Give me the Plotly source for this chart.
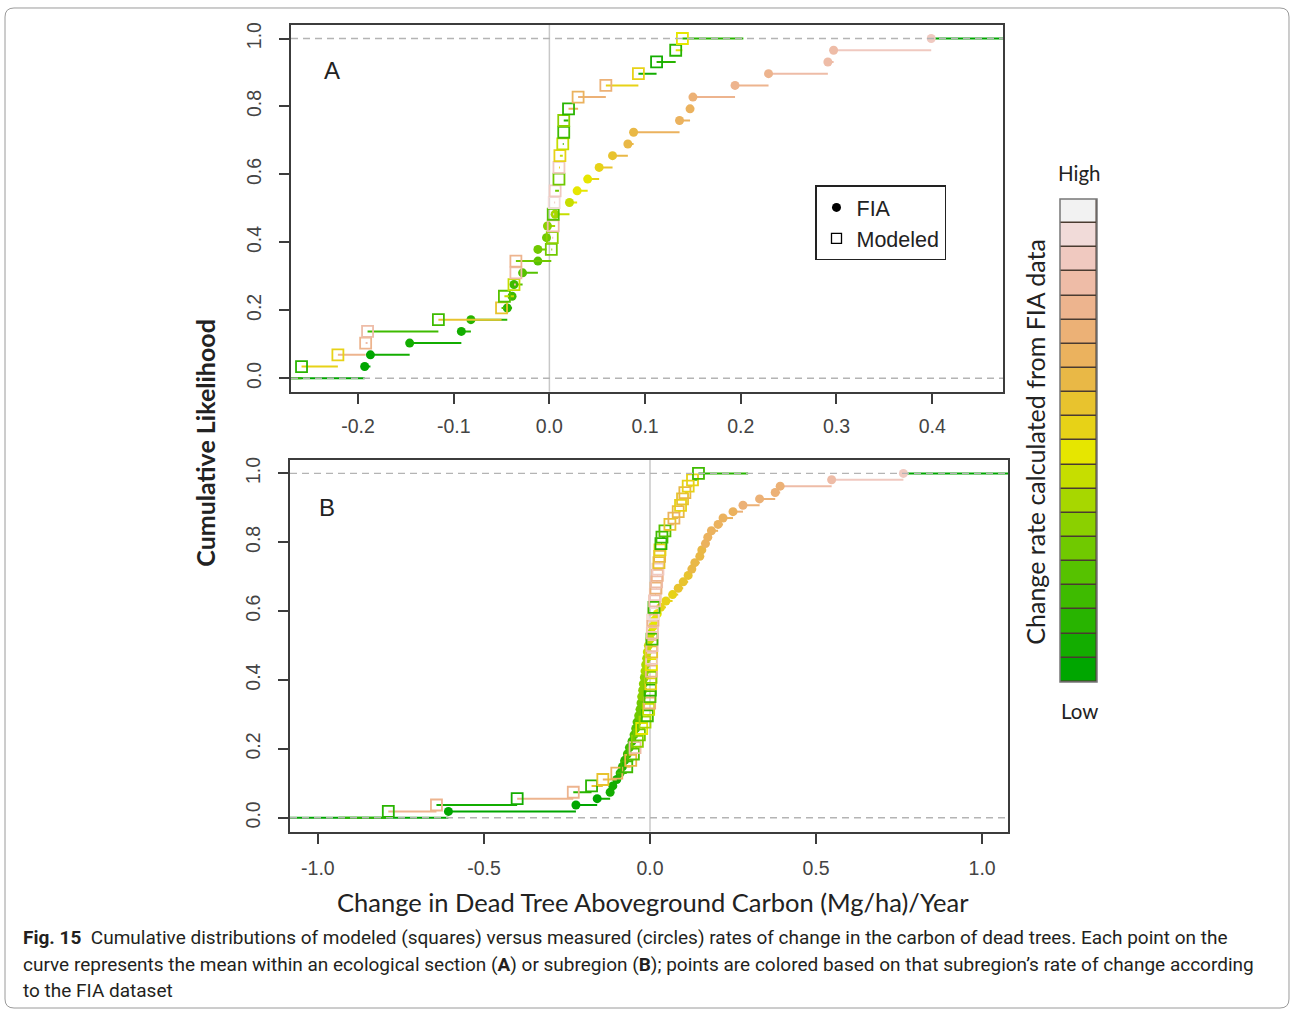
import colorsys
import numpy as np
import plotly.graph_objects as go

W, H = 1290, 1011

# ---------------- DATA ----------------
# Panel A: ecological sections (sorted values of each ECDF)
a_fia_x = [-0.193, -0.187, -0.146, -0.092, -0.082, -0.044, -0.039, -0.037, -0.028, -0.012,
           -0.012, -0.003, -0.002, 0.006, 0.021, 0.029, 0.040, 0.052, 0.066, 0.082,
           0.088, 0.136, 0.147, 0.150, 0.194, 0.229, 0.291, 0.297, 0.399]
a_fia_col = [0, 0, 1, 1, 2, 2, 3, 3, 4, 4, 5, 5, 6, 7, 8, 9, 9, 10, 11, 12,
             12, 13, 13, 14, 15, 15, 16, 16, 17]
a_mod_x = [-0.259, -0.221, -0.192, -0.190, -0.116, -0.050, -0.047, -0.037, -0.035, -0.035,
           0.002, 0.003, 0.004, 0.004, 0.005, 0.006, 0.010, 0.010, 0.011, 0.014,
           0.015, 0.015, 0.020, 0.030, 0.059, 0.093, 0.112, 0.132, 0.139]
a_mod_col = [2, 10, 15, 16, 3, 11, 4, 8, 16, 15, 5, 6, 16, 4, 18, 17, 5, 17, 10, 8,
             3, 6, 2, 13, 14, 10, 1, 2, 9]

# Panel B: subregions
b_fia_x = [-0.607, -0.223, -0.159, -0.120, -0.112, -0.100, -0.090, -0.083, -0.076, -0.068,
           -0.062, -0.054, -0.048, -0.043, -0.039, -0.034, -0.030, -0.027, -0.025, -0.022,
           -0.020, -0.017, -0.015, -0.013, -0.010, -0.008, -0.005, 0.000, 0.004, 0.009,
           0.014, 0.022, 0.032, 0.048, 0.068, 0.085, 0.100, 0.115, 0.126, 0.135,
           0.150, 0.156, 0.167, 0.174, 0.185, 0.205, 0.220, 0.250, 0.280, 0.330,
           0.377, 0.392, 0.547, 0.763]
b_fia_col = [0, 0, 0, 1, 1, 1, 2, 2, 2, 3, 3, 3, 4, 4, 4, 5, 5, 5, 6, 6,
             6, 6, 7, 7, 7, 8, 8, 8, 8, 9, 9, 9, 10, 10, 10, 11, 11, 11, 12, 12,
             12, 12, 13, 13, 13, 13, 13, 13, 14, 14, 14, 14, 16, 17]
b_mod_x = [-0.788, -0.643, -0.400, -0.231, -0.176, -0.142, -0.100, -0.070, -0.058, -0.050,
           -0.045, -0.038, -0.032, -0.025, -0.015, -0.008, -0.004, -0.001, 0.000, 0.001,
           0.002, 0.003, 0.004, 0.004, 0.005, 0.005, 0.006, 0.006, 0.007, 0.008,
           0.009, 0.010, 0.012, 0.014, 0.016, 0.018, 0.020, 0.022, 0.024, 0.027,
           0.029, 0.030, 0.033, 0.036, 0.045, 0.060, 0.072, 0.085, 0.092, 0.098,
           0.105, 0.115, 0.128, 0.146]
b_mod_col = [2, 15, 1, 15, 2, 11, 13, 3, 12, 4, 16, 6, 5, 9, 7, 3, 8, 14, 4, 2,
             10, 6, 15, 9, 17, 11, 16, 3, 16, 17, 15, 18, 3, 16, 17, 14, 16, 15, 17, 11,
             12, 10, 2, 3, 4, 11, 13, 12, 10, 11, 12, 10, 10, 3]

a_xticks = [-0.2, -0.1, 0.0, 0.1, 0.2, 0.3, 0.4]
a_xlabels = ["-0.2", "-0.1", "0.0", "0.1", "0.2", "0.3", "0.4"]
b_xticks = [-1.0, -0.5, 0.0, 0.5, 1.0]
b_xlabels = ["-1.0", "-0.5", "0.0", "0.5", "1.0"]
yticks = [0.0, 0.2, 0.4, 0.6, 0.8, 1.0]
ylabels = ["0.0", "0.2", "0.4", "0.6", "0.8", "1.0"]
b_fia_xlim = (-1.0, 1.0)

# ---------------- palette (R terrain.colors(20)) ----------------
def terrain(n):
    k = n // 2
    out = []
    for i in range(k):
        t = i / (k - 1)
        h = 4/12 + (2/12 - 4/12) * t
        v = 0.65 + (0.9 - 0.65) * t
        out.append((h, 1.0, v))
    m = n - k + 1
    for i in range(1, m):
        t = i / (m - 1)
        h = 2/12 * (1 - t)
        s = 1 - t
        v = 0.9 + 0.05 * t
        out.append((h, s, v))
    cols = []
    for h, s, v in out:
        r, g, b = colorsys.hsv_to_rgb(h, s, v)
        cols.append("#%02X%02X%02X" % (round(r*255), round(g*255), round(b*255)))
    return cols

PAL = terrain(20)

fig = go.Figure()

def add_ecdf(xs, cols, symbol, xa, ya, xlim=None):
    n = len(xs)
    ys = [(i + 1) / n for i in range(n)]
    if xlim is None:
        dr = max(0.08 * (max(xs) - min(xs)), float(np.median(np.diff(xs))))
        lo, hi = min(xs) - dr, max(xs) + dr
    else:
        lo, hi = xlim
        dr = hi - lo
    t = [lo - dr] + list(xs) + [hi + dr]
    groups = {}
    for k in range(n + 1):
        c = cols[k % n]
        gx, gy = groups.setdefault(c, ([], []))
        gx.extend([t[k], t[k + 1], None])
        gy.extend([k / n, k / n, None])
    for c, (gx, gy) in groups.items():
        fig.add_trace(go.Scatter(x=gx, y=gy, mode="lines", xaxis=xa, yaxis=ya,
                                 line=dict(color=PAL[c], width=2), showlegend=False,
                                 hoverinfo="skip", cliponaxis=True))
    mc = [PAL[c] for c in cols]
    if symbol == "circle":
        marker = dict(symbol="circle", size=9, color=mc, line=dict(width=0))
    else:
        marker = dict(symbol="square-open", size=11, color=mc, line=dict(width=1.8, color=mc))
    fig.add_trace(go.Scatter(x=xs, y=ys, mode="markers", xaxis=xa, yaxis=ya,
                             marker=marker, showlegend=False, cliponaxis=True))

add_ecdf(a_fia_x, a_fia_col, "circle", "x", "y")
add_ecdf(a_mod_x, a_mod_col, "square", "x", "y")
add_ecdf(b_fia_x, b_fia_col, "circle", "x2", "y2", xlim=b_fia_xlim)
add_ecdf(b_mod_x, b_mod_col, "square", "x2", "y2")

# legend entries
fig.add_trace(go.Scatter(x=[None], y=[None], mode="markers", name="FIA",
                         marker=dict(symbol="circle", size=9, color="black"), xaxis="x", yaxis="y"))
fig.add_trace(go.Scatter(x=[None], y=[None], mode="markers", name="Modeled",
                         marker=dict(symbol="square-open", size=10, color="black",
                                     line=dict(width=1.3, color="black")), xaxis="x", yaxis="y"))

# colour key as stacked bar
fig.add_trace(go.Bar(x=[0] * 20, y=[1] * 20, base=list(range(20)), width=1,
                     marker=dict(color=PAL, line=dict(color="#4a3b30", width=1.5)),
                     xaxis="x3", yaxis="y3", showlegend=False, hoverinfo="skip"))

def dom_x(a, b):
    return [a / W, b / W]

def dom_y(top, bot):
    return [1 - bot / H, 1 - top / H]

tickfont = dict(family="Liberation Sans, Arial", size=19.5, color="#444444")
axis_common = dict(showline=True, mirror=True, linecolor="#3c3c3c", linewidth=2,
                   ticks="outside", ticklen=10, tickwidth=1.5, tickcolor="#3c3c3c",
                   showgrid=False, zeroline=False, tickfont=tickfont)

fig.update_layout(
    width=W, height=H,
    margin=dict(l=0, r=0, t=0, b=0),
    paper_bgcolor="white", plot_bgcolor="white",
    xaxis=dict(domain=dom_x(291, 1003), range=[-0.270, 0.474], anchor="y",
               tickmode="array", tickvals=a_xticks, ticktext=a_xlabels,
               ticklabelstandoff=6, **axis_common),
    yaxis=dict(domain=dom_y(22, 390), range=[-0.04, 1.04], anchor="x",
               tickmode="array", tickvals=yticks, ticktext=ylabels, tickangle=-90,
               ticklabelstandoff=10, **axis_common),
    xaxis2=dict(domain=dom_x(290, 1008), range=[-1.084, 1.078], anchor="y2",
                tickmode="array", tickvals=b_xticks, ticktext=b_xlabels,
                ticklabelstandoff=8, **axis_common),
    yaxis2=dict(domain=dom_y(458, 831), range=[-0.04, 1.04], anchor="x2",
                tickmode="array", tickvals=yticks, ticktext=ylabels, tickangle=-90,
                ticklabelstandoff=10, **axis_common),
    xaxis3=dict(domain=dom_x(1060, 1097), range=[-0.5, 0.5], anchor="y3",
                visible=False, fixedrange=True),
    yaxis3=dict(domain=dom_y(196.7, 681), range=[0, 20], anchor="x3",
                visible=False, fixedrange=True),
    bargap=0,
    showlegend=True,
    legend=dict(x=815 / W, y=1 - 183 / H, xanchor="left", yanchor="top",
                bgcolor="white", bordercolor="#222222", borderwidth=1.5,
                font=dict(family="Liberation Sans, Arial", size=21.5, color="#222222"),
                itemwidth=30, tracegroupgap=2),
)

shapes = []
for xa, ya in (("x", "y"), ("x2", "y2")):
    shapes.append(dict(type="line", xref=xa, yref=ya + " domain", x0=0, x1=0, y0=0, y1=1,
                       line=dict(color="#c8c8c8", width=1.5), layer="below"))
    for yv in (0, 1):
        shapes.append(dict(type="line", xref=xa + " domain", yref=ya, x0=0, x1=1, y0=yv, y1=yv,
                           line=dict(color="#b4b4b4", width=1.3, dash="7px,5px"), layer="above"))
# colour key outer frame
shapes.append(dict(type="rect", xref="x3 domain", yref="y3 domain", x0=0, x1=1, y0=0, y1=1,
                   line=dict(color="#777777", width=1.5)))

# rounded figure frame
def P(px, py):
    return "%.5f,%.5f" % (px / W, 1 - py / H)
x0, y0, x1, y1, r = 5, 5, 1289, 1008, 9
path = ("M " + P(x0 + r, y0) + " L " + P(x1 - r, y0) + " Q " + P(x1, y0) + " " + P(x1, y0 + r) +
        " L " + P(x1, y1 - r) + " Q " + P(x1, y1) + " " + P(x1 - r, y1) +
        " L " + P(x0 + r, y1) + " Q " + P(x0, y1) + " " + P(x0, y1 - r) +
        " L " + P(x0, y0 + r) + " Q " + P(x0, y0) + " " + P(x0 + r, y0) + " Z")
shapes.append(dict(type="path", xref="paper", yref="paper", path=path,
                   line=dict(color="#9a9a9a", width=1)))
fig.update_layout(shapes=shapes)

def ann(text, px, py, size, family="Lato", color="#222222", angle=0, xanchor="center", weight=None):
    font = dict(family=family, size=size, color=color)
    if weight:
        font["weight"] = weight
    return dict(text=text, x=px / W, y=1 - py / H, xref="paper", yref="paper",
                showarrow=False, textangle=angle, xanchor=xanchor, yanchor="middle", font=font)

anns = [
    ann("A", 332, 68, 24, family="Liberation Sans, Arial"),
    ann("B", 327, 506, 24, family="Liberation Sans, Arial"),
    ann("Cumulative Likelihood", 205, 441, 25, angle=-90, weight=700),
    ann("Change in Dead Tree Aboveground Carbon (Mg/ha)/Year", 653, 902, 25.5),
    ann("Change rate calculated from FIA data", 1035, 440, 25, angle=-90),
    ann("High", 1079, 171, 20.5),
    ann("Low", 1079, 710, 20.5),
]
cap_font = "Roboto"
cap = [
    ("<b>Fig. 15</b>\u00a0\u00a0Cumulative distributions of modeled (squares) versus measured (circles) rates of change in the carbon of dead trees. Each point on the", 937),
    ("curve represents the mean within an ecological section (<b>A</b>) or subregion (<b>B</b>); points are colored based on that subregion\u2019s rate of change according", 964),
    ("to the FIA dataset", 990),
]
for t, py in cap:
    anns.append(ann(t, 21, py, 19, family=cap_font, color="#231f20", xanchor="left"))
fig.update_layout(annotations=anns)

fig.write_html("out.html", config={"displayModeBar": False},
               post_script="document.body.style.margin='0px';document.body.style.padding='0px';")
